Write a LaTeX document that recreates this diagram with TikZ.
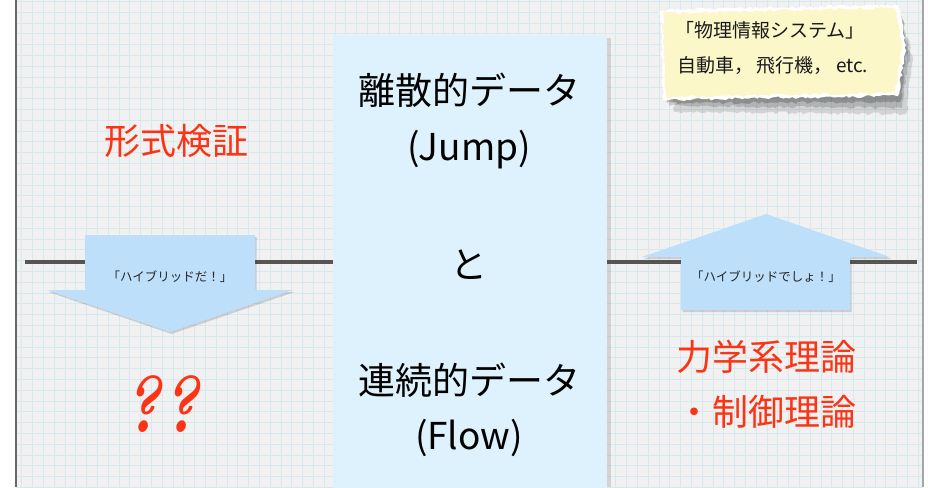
\documentclass[tikz,border=0pt]{standalone}
\usepackage{fontspec}
\setmainfont{Noto Sans CJK JP}
\newfontfamily\qfont{Latin Modern Roman}
\usetikzlibrary{decorations.pathmorphing}
\definecolor{bg}{HTML}{F1F1F1}
\definecolor{gridc}{HTML}{D8E8EF}
\definecolor{boxc}{HTML}{DDF2FC}
\definecolor{arrc}{HTML}{BDDFFA}
\definecolor{redc}{HTML}{FA3414}
\definecolor{paper}{HTML}{FBF7C9}
\definecolor{linec}{HTML}{555555}
\tikzset{
  bigtext/.style={font=\fontsize{37}{44}\selectfont, text=black},
  redtext/.style={font=\fontsize{36}{42}\selectfont, text=redc},
  smalltext/.style={font=\fontsize{12.5}{15}\selectfont, text=black!85},
  papertext/.style={font=\fontsize{19}{23}\selectfont, text=black!90},
  torn/.style={decorate, decoration={random steps, segment length=3, amplitude=1.4}},
  hline/.style={draw=linec, line width=4},
}
\begin{document}
\begin{tikzpicture}[x=1pt,y=-1pt]
\useasboundingbox (0,0) rectangle (928,487);
\fill[white] (0,0) rectangle (928,487);
\fill[bg] (16,0) rectangle (923,487);
\begin{scope}
  \clip (16,0) rectangle (923,487);
  \foreach \i in {0,...,85} \draw[gridc, line width=0.5] ({10.9+10.8*\i},0) -- ++(0,487);
  \foreach \j in {0,...,45} \draw[gridc, line width=0.5] (16,{1.2+10.8*\j}) -- ++(907,0);
\end{scope}
\draw[black!60, line width=2] (16,0) -- (16,487);
\draw[black!35, line width=1.5] (923,0) -- (923,487);

% center box
\fill[black, opacity=0.12] (607,38) rectangle (611,487);
\node[fill=boxc, anchor=north west, minimum width=274, minimum height=460, inner sep=0, outer sep=0] (box) at (333,35) {};

% horizontal line
\coordinate (hl) at (25,262);
\coordinate (hr) at (917,262);
\draw[hline] (hl) -- (hl -| box.west);
\draw[hline] (box.east |- hr) -- (hr);

% left down arrow
\fill[black, opacity=0.15] (86.5,237) -- (256.5,237) -- (256.5,292) -- (294.5,292) -- (171.5,334) -- (48.5,292) -- (86.5,292) -- cycle;
\fill[arrc] (85,235) -- (255,235) -- (255,290) -- (293,290) -- (170,332) -- (47,290) -- (85,290) -- cycle;
\node[smalltext] (hyb1) at (170,277) {「ハイブリッドだ！」};

% right up arrow
\fill[black, opacity=0.15] (682.5,312) -- (682.5,259) -- (643.5,259) -- (767.5,216) -- (891.5,259) -- (851.5,259) -- (851.5,312) -- cycle;
\fill[arrc] (681,310) -- (681,257) -- (642,257) -- (766,214) -- (890,257) -- (850,257) -- (850,310) -- cycle;
\node[smalltext] (hyb2) at (766,277) {「ハイブリッドでしょ！」};

% torn paper
\fill[black, opacity=0.12, torn] (668,22) -- (902,16) -- (913,60) -- (906,114) -- (674,112) -- cycle;
\fill[black, opacity=0.15, torn] (666,18) -- (900,12) -- (910,55) -- (902,108) -- (670,106) -- cycle;
\fill[black, opacity=0.2, torn] (664,14) -- (898,9) -- (907,50) -- (900,102) -- (667,103) -- cycle;
\fill[white, torn] (660,10) -- (898,5) -- (906,45) -- (898,96) -- (663,100) -- cycle;
\fill[paper, torn] (663,13) -- (895,8) -- (902,45) -- (895,93) -- (666,97) -- cycle;
\node[papertext] (p1) at (770,30) {「物理情報システム」};
\node[papertext] (p2) at (773,66) {自動車，\,飛行機，\,etc.};

% texts
\node[redtext] (fv) at (176,141) {形式検証};
\node[text=redc] (qq) at (161,404) {\scalebox{0.8}[1]{\qfont\bfseries\itshape\fontsize{80}{80}\selectfont ??}};
\node[redtext] (dyn) at (766,357) {力学系理論};
\node[redtext] (ctl) at (766,412) {・制御理論};

\node[bigtext] (t1) at (469,90) {離散的データ};
\node[bigtext] (t2) at (469,150) {(Jump)};
\node[bigtext] (t3) at (469,265) {と};
\node[bigtext] (t4) at (469,380) {連続的データ};
\node[bigtext] (t5) at (469,438) {(Flow)};
\end{tikzpicture}
\end{document}
